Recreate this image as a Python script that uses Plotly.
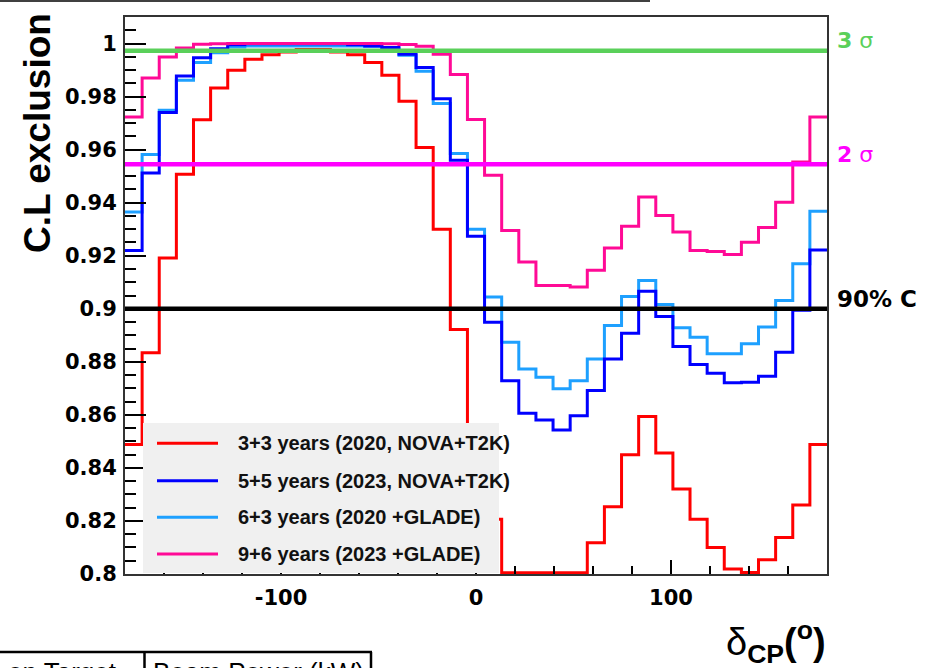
import numpy as np
import plotly.graph_objects as go

# δCP binning: 41 equal bins spanning the full circle
delta_edges = np.linspace(-180, 180, 42)

# C.L. of CP-conservation exclusion in each δCP bin
cl_3p3_nova_t2k = [0.8488, 0.8834, 0.9191, 0.9507, 0.9713, 0.9832, 0.9899, 0.9941, 0.9958, 0.9968,
                   0.9977, 0.9977, 0.9968, 0.9958, 0.9928, 0.9880, 0.9782, 0.9608, 0.9300, 0.8922,
                   0.8530, 0.8206, 0.8000, 0.8000, 0.8000, 0.8000, 0.8000, 0.8118, 0.8254, 0.8450,
                   0.8594, 0.8456, 0.8320, 0.8206, 0.8100, 0.8019, 0.8006, 0.8054, 0.8138, 0.8260,
                   0.8488]
cl_5p5_nova_t2k = [0.9220, 0.9512, 0.9740, 0.9878, 0.9946, 0.9980, 0.9995, 0.9999, 0.9999, 0.9999,
                   0.9999, 0.9999, 0.9999, 0.9995, 0.9991, 0.9985, 0.9960, 0.9910, 0.9792, 0.9560,
                   0.9273, 0.8949, 0.8729, 0.8606, 0.8581, 0.8543, 0.8597, 0.8692, 0.8811, 0.8908,
                   0.9066, 0.8971, 0.8858, 0.8790, 0.8757, 0.8721, 0.8723, 0.8746, 0.8836, 0.8994,
                   0.9222]
cl_6p3_glade = [0.9365, 0.9582, 0.9748, 0.9862, 0.9928, 0.9965, 0.9987, 0.9991, 0.9991, 0.9991,
                0.9991, 0.9991, 0.9991, 0.9991, 0.9990, 0.9980, 0.9956, 0.9895, 0.9774, 0.9585,
                0.9300, 0.9044, 0.8874, 0.8773, 0.8742, 0.8698, 0.8729, 0.8811, 0.8937, 0.9046,
                0.9107, 0.9016, 0.8928, 0.8893, 0.8830, 0.8830, 0.8868, 0.8931, 0.9031, 0.9170,
                0.9368]
cl_9p6_glade = [0.9723, 0.9870, 0.9949, 0.9983, 0.9997, 0.9999, 1.0000, 1.0000, 1.0000, 1.0000,
                1.0000, 1.0000, 1.0000, 1.0000, 1.0000, 0.9999, 0.9996, 0.9990, 0.9960, 0.9883,
                0.9714, 0.9503, 0.9295, 0.9176, 0.9088, 0.9088, 0.9082, 0.9145, 0.9229, 0.9311,
                0.9421, 0.9352, 0.9289, 0.9220, 0.9216, 0.9205, 0.9251, 0.9306, 0.9402, 0.9553,
                0.9723]

series_names = ["3+3 years (2020, NOVA+T2K)", "5+5 years (2023, NOVA+T2K)",
                "6+3 years (2020 +GLADE)", "9+6 years (2023 +GLADE)"]
series_values = [cl_3p3_nova_t2k, cl_5p5_nova_t2k, cl_6p3_glade, cl_9p6_glade]
series_colors = ["#ff0000", "#0000ff", "#1ea0ff", "#ff0a96"]
draw_order = [0, 2, 1, 3]

# significance reference levels
ref_levels = [0.9973, 0.9545, 0.90]
ref_labels = ["<b>3</b> σ", "<b>2</b> σ", "<b>90% C</b>"]
ref_colors = ["#5ad05a", "#ff00ff", "#000000"]

x_ticks = [-100, 0, 100]
x_tick_text = ["-100", "0", "100"]
Y_MIN, Y_MAX = 0.80, 1.01

# canvas geometry (pixels)
W, H = 942, 668
ML, MR, MT, MB = 125, 115, 17, 94
PW, PH = W - ML - MR, H - MT - MB


def px(x):
    return (x - ML) / PW


def py(y):
    return (H - MB - y) / PH


fig = go.Figure()

for i in draw_order:
    vals = np.asarray(series_values[i], dtype=float)
    # values at or under the frame minimum are drawn along the bottom edge
    vals = np.clip(vals, Y_MIN + 0.0005, None)
    fig.add_trace(go.Scatter(
        x=delta_edges,
        y=np.append(vals, vals[-1]),
        mode="lines",
        line=dict(color=series_colors[i], width=3, shape="hv"),
        name=series_names[i],
        showlegend=False,
        hoverinfo="skip",
    ))

shapes = []
annotations = []

# horizontal confidence-level lines and their labels
label_y = [41, 154, 299]
label_sizes = [22, 22, 23]
for lvl, lab, col, ly, fs in zip(ref_levels, ref_labels, ref_colors, label_y, label_sizes):
    shapes.append(dict(type="line", xref="paper", yref="y", x0=0, x1=1, y0=lvl, y1=lvl,
                       line=dict(color=col, width=4.5), layer="above"))
    annotations.append(dict(xref="paper", yref="paper", x=px(835), y=py(ly),
                            xanchor="left", yanchor="middle", text=lab, showarrow=False,
                            font=dict(family="DejaVu Sans", size=fs, color=col)))

# legend panel
shapes.append(dict(type="rect", xref="paper", yref="paper",
                   x0=px(143), x1=px(499), y0=py(573), y1=py(423),
                   fillcolor="#f0f0f0", line=dict(width=0), layer="above"))
row_y = [443.3, 480.7, 517.3, 554]
for i, ry in enumerate(row_y):
    shapes.append(dict(type="line", xref="paper", yref="paper",
                       x0=px(157), x1=px(218), y0=py(ry), y1=py(ry),
                       line=dict(color=series_colors[i], width=3), layer="above"))
    annotations.append(dict(xref="paper", yref="paper", x=px(236), y=py(ry),
                            xanchor="left", yanchor="middle", text="<b>%s</b>" % series_names[i],
                            showarrow=False,
                            font=dict(family="Liberation Sans, Arial", size=20, color="#111111")))

# axis titles
annotations.append(dict(xref="paper", yref="paper", x=px(37), y=py(133),
                        xanchor="center", yanchor="middle", textangle=-90,
                        text="<b>C.L exclusion</b>", showarrow=False,
                        font=dict(family="Liberation Sans, Arial", size=37, color="black")))
annotations.append(dict(xref="paper", yref="paper", x=px(828), y=py(642),
                        xanchor="right", yanchor="middle",
                        text="δ<sub><b>CP</b></sub><b>(<sup>o</sup>)</b>", showarrow=False,
                        font=dict(family="Liberation Sans, Arial", size=38, color="black")))

# surrounding table borders
shapes.append(dict(type="line", xref="paper", yref="paper", x0=px(0), x1=px(650),
                   y0=py(1), y1=py(1), line=dict(color="black", width=1.5)))
shapes.append(dict(type="line", xref="paper", yref="paper", x0=px(0), x1=px(372),
                   y0=py(652), y1=py(652), line=dict(color="black", width=2.5)))
for vx in [144.5, 371]:
    shapes.append(dict(type="line", xref="paper", yref="paper", x0=px(vx), x1=px(vx),
                       y0=py(652), y1=py(670), line=dict(color="black", width=2.5)))
annotations.append(dict(xref="paper", yref="paper", x=px(119), y=py(655),
                        xanchor="right", yanchor="top", text="on Target", showarrow=False,
                        font=dict(family="Liberation Sans, Arial", size=26, color="black")))
annotations.append(dict(xref="paper", yref="paper", x=px(151), y=py(655),
                        xanchor="left", yanchor="top", text="Beam Power (kW)", showarrow=False,
                        font=dict(family="Liberation Sans, Arial", size=26, color="black")))

tick_font = dict(family="DejaVu Sans", size=21, color="black", weight="bold")

fig.update_layout(
    width=W, height=H,
    margin=dict(l=ML, r=MR, t=MT, b=MB, pad=0),
    paper_bgcolor="white", plot_bgcolor="white",
    shapes=shapes, annotations=annotations,
    showlegend=False,
    xaxis=dict(range=[-180, 180], tickmode="array", tickvals=x_ticks, ticktext=x_tick_text,
               ticks="inside", ticklen=14, tickwidth=1.5, tickcolor="black",
               minor=dict(dtick=20, tick0=0, ticks="inside", ticklen=8, tickwidth=1.5, tickcolor="black"),
               showgrid=False, zeroline=False, showline=True, linecolor="#333333", linewidth=2,
               mirror=True, tickfont=tick_font, ticklabelstandoff=4),
    yaxis=dict(range=[Y_MIN, Y_MAX], dtick=0.02, tick0=0.8,
               ticks="inside", ticklen=21, tickwidth=1.5, tickcolor="black",
               minor=dict(dtick=0.005, tick0=0.8, ticks="inside", ticklen=11, tickwidth=1.5, tickcolor="black"),
               showgrid=False, zeroline=False, showline=True, linecolor="#333333", linewidth=2,
               mirror=True, tickfont=tick_font, ticklabelstandoff=2),
)

fig.write_html("out.html")
